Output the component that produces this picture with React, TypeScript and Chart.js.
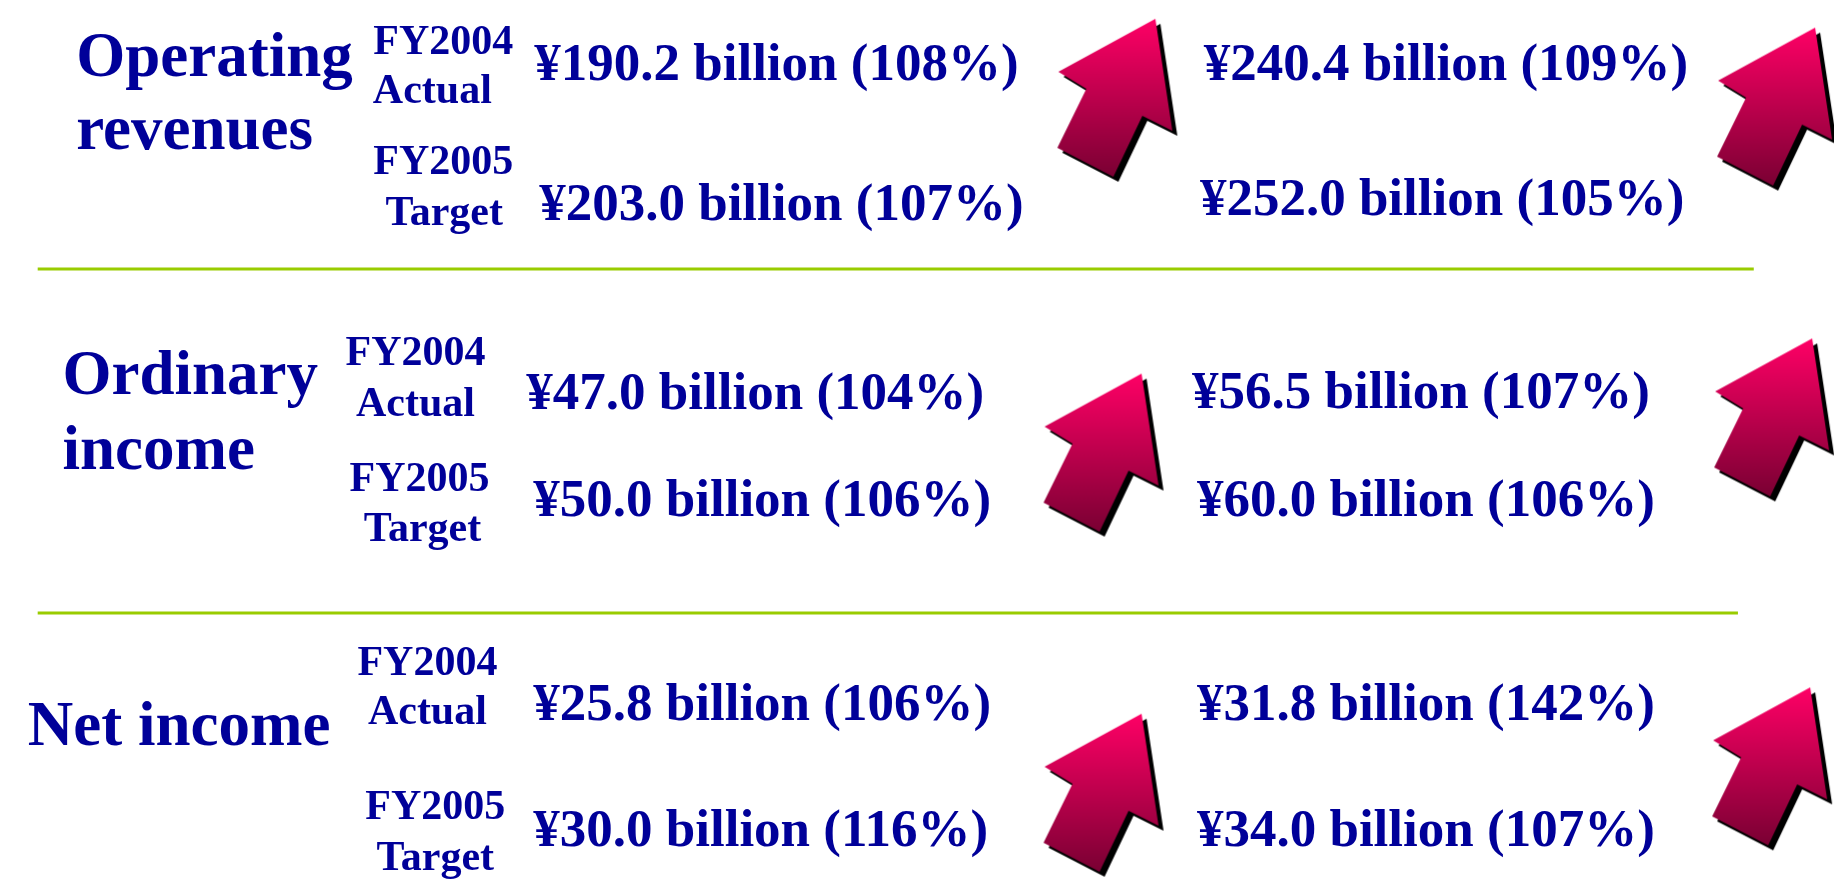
import React, { useEffect, useRef } from "react";
import { Chart, registerables } from "chart.js";

Chart.register(...registerables);

// ---- data ----
const metricNames = ["Operating revenues", "Ordinary income", "Net income"];
const metricLines = [["Operating", "revenues"], ["Ordinary", "income"], ["Net income"]];
const actualLabel = ["FY2004", "Actual"];
const targetLabel = ["FY2005", "Target"];
const fy2004Actual = [190.2, 47.0, 25.8];
const fy2004ActualPct = [108, 104, 106];
const fy2005Target = [203.0, 50.0, 30.0];
const fy2005TargetPct = [107, 106, 116];
const nextActual = [240.4, 56.5, 31.8];
const nextActualPct = [109, 107, 142];
const nextTarget = [252.0, 60.0, 34.0];
const nextTargetPct = [105, 106, 107];

// ---- layout (slide units) ----
const metricX = [67, 53, 18];
const metricBaselines = [[68, 142], [393, 470], [752]];
const fyLabelCenters = [[438, 427, 438, 439], [410, 410, 414, 417], [422, 422, 430, 430]];
const fyLabelBaselines = [[45, 95, 168, 220], [363, 415, 492, 543], [680, 730, 828, 880]];
const valueX = [[530, 535], [522, 529], [529, 529]];
const valueBaselines = [[72, 215], [408, 518], [726, 855]];
const nextX = [[1207, 1203], [1195, 1200], [1200, 1200]];
const nextBaselines = [[72, 210], [407, 518], [726, 855]];
const arrowTipX = [1158, 1825, 1144, 1822, 1144, 1820];
const arrowTipY = [9, 18, 372, 336, 720, 693];
const separatorY = [265, 617];
const separatorX0 = [28, 28];
const separatorX1 = [1763, 1747];

const ARROW_SHAPE = [[0, 0], [-97, 53], [-69, 70], [-98, 129], [-42, 158], [-13, 97], [17, 112]];

const TEXT_COLOR = "#000099";
const FONT = '"Liberation Serif", "Times New Roman", serif';

function fmt(v: number, p: number) {
  return `¥${v.toFixed(1)} billion (${p}%)`;
}

function makeArrow(): HTMLCanvasElement {
  const c = document.createElement("canvas");
  c.width = 260;
  c.height = 360;
  const ctx = c.getContext("2d")!;
  const ox = 130, oy = 180;
  const path = (dx: number, dy: number) => {
    ctx.beginPath();
    ARROW_SHAPE.forEach(([x, y], i) => {
      if (i === 0) ctx.moveTo(ox + x + dx, oy + y + dy);
      else ctx.lineTo(ox + x + dx, oy + y + dy);
    });
    ctx.closePath();
  };
  path(5, 5);
  ctx.fillStyle = "#000000";
  ctx.fill();
  path(0, 0);
  const g = ctx.createLinearGradient(0, oy, 0, oy + 158);
  g.addColorStop(0, "#FF0066");
  g.addColorStop(1, "#7A0033");
  ctx.fillStyle = g;
  ctx.fill();
  return c;
}

const textPlugin = {
  id: "slideText",
  afterDatasetsDraw(chart: any) {
    const ctx = chart.ctx as CanvasRenderingContext2D;
    const xs = chart.scales.x;
    const ys = chart.scales.y;
    const px = (v: number) => xs.getPixelForValue(v);
    const py = (v: number) => ys.getPixelForValue(v);
    ctx.save();
    ctx.fillStyle = TEXT_COLOR;
    ctx.textBaseline = "alphabetic";
    for (let r = 0; r < metricNames.length; r++) {
      // metric name
      ctx.font = `bold 63px ${FONT}`;
      ctx.textAlign = "left";
      metricLines[r].forEach((line, i) => {
        ctx.fillText(line, px(metricX[r]), py(metricBaselines[r][i]));
      });
      // FY labels
      ctx.font = `bold 42px ${FONT}`;
      ctx.textAlign = "center";
      const labels = [...actualLabel, ...targetLabel];
      labels.forEach((lab, i) => {
        ctx.fillText(lab, px(fyLabelCenters[r][i]), py(fyLabelBaselines[r][i]));
      });
      // values
      ctx.font = `bold 53px ${FONT}`;
      ctx.textAlign = "left";
      ctx.fillText(fmt(fy2004Actual[r], fy2004ActualPct[r]), px(valueX[r][0]), py(valueBaselines[r][0]));
      ctx.fillText(fmt(fy2005Target[r], fy2005TargetPct[r]), px(valueX[r][1]), py(valueBaselines[r][1]));
      ctx.fillText(fmt(nextActual[r], nextActualPct[r]), px(nextX[r][0]), py(nextBaselines[r][0]));
      ctx.fillText(fmt(nextTarget[r], nextTargetPct[r]), px(nextX[r][1]), py(nextBaselines[r][1]));
    }
    ctx.restore();
  },
};

export default function App() {
  const ref = useRef<HTMLCanvasElement>(null);
  useEffect(() => {
    if (!ref.current) return;
    const arrow = makeArrow();
    const separatorSets = separatorY.map((y, i) => ({
      type: "line" as const,
      data: [{ x: separatorX0[i], y }, { x: separatorX1[i], y }],
      borderColor: "#99CC00",
      borderWidth: 3,
      pointRadius: 0,
      showLine: true,
      fill: false,
    }));
    const chart = new Chart(ref.current, {
      type: "scatter",
      data: {
        datasets: [
          ...separatorSets,
          {
            type: "scatter" as const,
            data: arrowTipX.map((x, i) => ({ x, y: arrowTipY[i] })),
            pointStyle: arrow as any,
            pointRadius: 10,
            borderWidth: 0,
            clip: false as any,
          },
        ] as any,
      },
      options: {
        animation: false,
        responsive: false,
        devicePixelRatio: 1,
        events: [],
        layout: { padding: 0 },
        plugins: { legend: { display: false }, tooltip: { enabled: false } },
        scales: {
          x: { type: "linear", min: 0, max: 1834, display: false },
          y: { type: "linear", min: 0, max: 885, reverse: true, display: false },
        },
      },
      plugins: [textPlugin],
    });
    return () => chart.destroy();
  }, []);
  return (
    <div style={{ position: "fixed", left: 0, top: 0, width: 1834, height: 885, background: "#ffffff" }}>
      <canvas ref={ref} width={1834} height={885} style={{ display: "block" }} />
    </div>
  );
}
